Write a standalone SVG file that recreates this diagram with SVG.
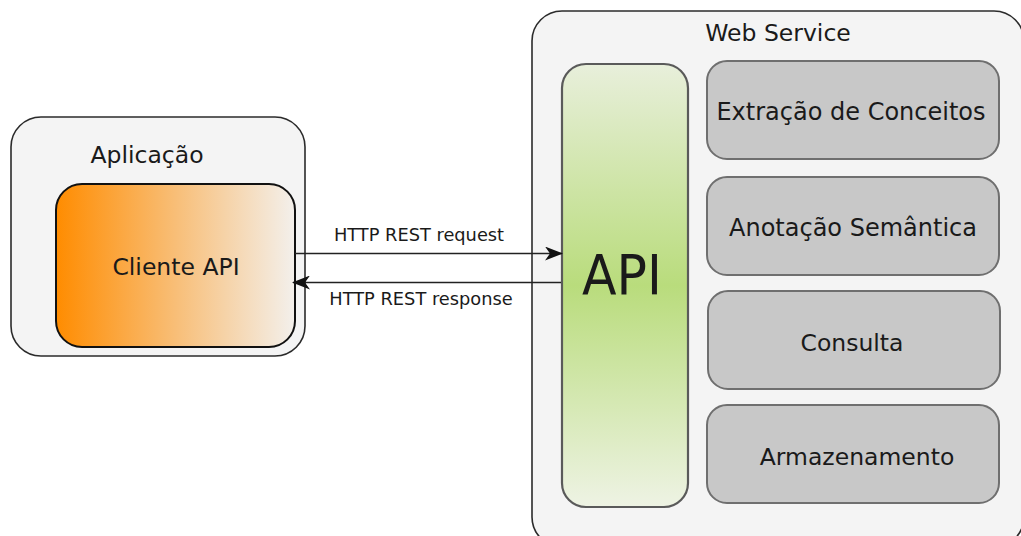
<svg xmlns="http://www.w3.org/2000/svg" width="1021" height="536" viewBox="0 0 1021 536">
  <defs>
    <linearGradient id="gradCliente" x1="0" y1="0" x2="1" y2="0">
      <stop offset="0" stop-color="#ff8c00"/>
      <stop offset="0.5" stop-color="#f8be77"/>
      <stop offset="1" stop-color="#f3f0ec"/>
    </linearGradient>
    <linearGradient id="gradApi" x1="0" y1="0" x2="0" y2="1">
      <stop offset="0" stop-color="#e8efdb"/>
      <stop offset="0.5" stop-color="#b9dc7c"/>
      <stop offset="1" stop-color="#eef3e4"/>
    </linearGradient>
    <marker id="arrow" viewBox="0 0 18 14" refX="17" refY="7" markerWidth="18" markerHeight="14" markerUnits="userSpaceOnUse" orient="auto">
      <path d="M0,0 L18,7 L0,14 L5,7 Z" fill="#111"/>
    </marker>
  </defs>
  <style>
    .container { fill: #f4f4f4; stroke: #2b2b2b; stroke-width: 1.6; }
    .module { fill: #c8c8c8; stroke: #6f6f6f; stroke-width: 2; }
    .label { font-family: "DejaVu Sans", sans-serif; fill: #1a1a1a; text-anchor: middle; }
    .big { font-size: 23.5px; }
    .wide { font-size: 24px; }
    .small { font-size: 17.8px; }
    .conn { stroke: #222; stroke-width: 1.5; fill: none; marker-end: url(#arrow); }
  </style>

  <rect width="1021" height="536" fill="#ffffff"/>

  <!-- Client application -->
  <g id="aplicacao">
    <rect class="container" x="11" y="117" width="294" height="239" rx="30"/>
    <text class="label big" x="147" y="163">Aplicação</text>
  </g>
  <g id="cliente-api">
    <rect x="56" y="184" width="239" height="163" rx="26" fill="url(#gradCliente)" stroke="#111" stroke-width="2"/>
    <text class="label big" x="176" y="275">Cliente API</text>
  </g>

  <!-- Server side -->
  <g id="web-service">
    <rect class="container" x="532" y="11" width="492" height="536" rx="30"/>
    <text class="label big" x="778" y="41">Web Service</text>
  </g>
  <g id="api">
    <rect x="562" y="64" width="126" height="443" rx="24" fill="url(#gradApi)" stroke="#5a5a5a" stroke-width="2.2"/>
    <text class="label" x="622" y="294" font-size="55" textLength="80" lengthAdjust="spacingAndGlyphs">API</text>
  </g>
  <g id="extracao">
    <rect class="module" x="707" y="61" width="292" height="98" rx="20"/>
    <text class="label wide" x="851" y="120">Extração de Conceitos</text>
  </g>
  <g id="anotacao">
    <rect class="module" x="707" y="177" width="292" height="98" rx="20"/>
    <text class="label wide" x="853" y="236">Anotação Semântica</text>
  </g>
  <g id="consulta">
    <rect class="module" x="708" y="291" width="292" height="98" rx="20"/>
    <text class="label big" x="852" y="351">Consulta</text>
  </g>
  <g id="armazenamento">
    <rect class="module" x="707" y="405" width="292" height="98" rx="20"/>
    <text class="label big" x="857" y="465">Armazenamento</text>
  </g>

  <!-- HTTP exchange -->
  <g id="connectors">
    <line class="conn" x1="295" y1="253.5" x2="562" y2="253.5"/>
    <line class="conn" x1="561" y1="282.5" x2="293" y2="282.5"/>
    <text class="label small" x="419" y="241">HTTP REST request</text>
    <text class="label small" x="421" y="305">HTTP REST response</text>
  </g>
</svg>
